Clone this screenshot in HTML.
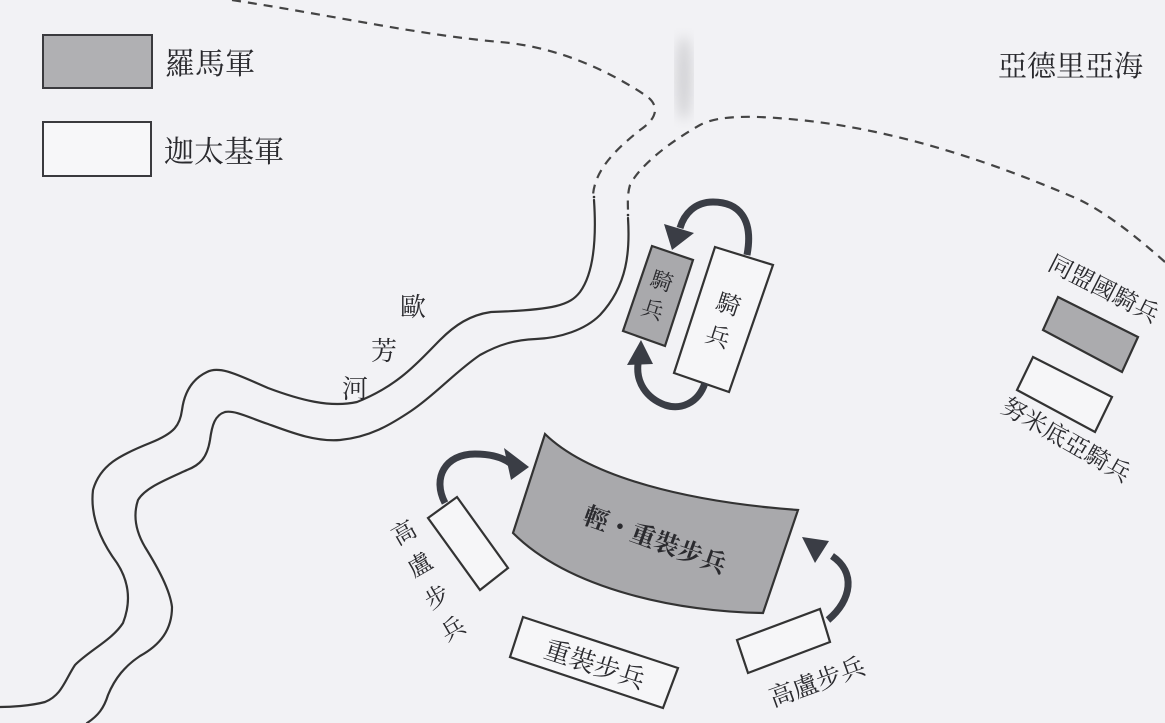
<!DOCTYPE html>
<html><head><meta charset="utf-8"><style>
html,body{margin:0;padding:0;background:#f2f2f5;}
svg{display:block}
text{font-family:"Liberation Serif","Noto Serif CJK SC","Noto Sans CJK TC",serif;fill:#2a2a2e}
</style></head><body>
<svg width="1165" height="723" viewBox="0 0 1165 723" xmlns="http://www.w3.org/2000/svg">
<defs>
<filter id="blur"><feGaussianBlur stdDeviation="6"/></filter>
</defs>
<rect width="1165" height="723" fill="#f2f2f5"/>
<ellipse cx="684" cy="78" rx="8" ry="42" fill="#d2d2d5" filter="url(#blur)"/>

<!-- legend -->
<rect x="43" y="35" width="109" height="53" fill="#b0b0b3" stroke="#3a3a3e" stroke-width="2"/>
<rect x="43" y="122" width="108" height="54" fill="#f7f7f9" stroke="#3a3a3e" stroke-width="2"/>
<text x="165" y="74" font-size="30">羅馬軍</text>
<text x="164" y="162" font-size="30">迦太基軍</text>
<text x="998" y="76" font-size="29">亞德里亞海</text>

<!-- dotted lines -->
<g fill="none" stroke="#444" stroke-width="2.2" stroke-dasharray="9 7">
<path d="M232,0 C330,15 420,35 500,42 C560,47 610,72 645,95 C660,105 658,118 640,130 C615,150 595,170 593,195"/>
<path d="M1165,262 C1140,240 1110,215 1080,200 C1000,165 900,130 800,120 C760,116 720,114 700,125 C670,142 640,165 630,185 C627,195 628,205 628,212"/>
</g>

<!-- river -->
<g fill="none" stroke="#333" stroke-width="2.2" stroke-linejoin="round" stroke-linecap="round">
<path d="M594,200 C596,230 596,270 580,292 C570,305 555,310 491,312 C470,315 455,325 440,340 C420,360 400,385 357,402 C330,408 300,400 268,388 C240,376 220,365 207,372 C190,380 184,395 182,410 C180,425 175,433 150,443 C120,455 100,465 93,490 C90,515 100,540 117,563 C128,580 132,600 123,623 C112,640 90,650 75,665 C65,680 62,695 45,702 C30,706 10,707 0,707"/>
<path d="M628,218 C630,250 628,285 600,315 C585,330 560,338 536,339 C515,340 500,344 480,355 C455,372 435,395 411,411 C390,425 370,437 340,440 C315,442 290,432 268,424 C250,418 235,410 225,412 C215,415 212,425 210,440 C207,458 200,465 187,470 C165,480 145,488 138,500 C133,515 135,530 145,547 C158,568 170,590 172,607 C172,630 160,645 140,656 C125,666 115,678 108,695 C104,708 98,716 87,723"/>
</g>
<g fill="#333"><circle cx="594" cy="197" r="1.3"/><circle cx="628" cy="215" r="1.3"/></g>

<text x="400" y="316" font-size="26">歐</text>
<text x="371" y="360" font-size="26">芳</text>
<text x="342" y="398" font-size="26">河</text>

<!-- cavalry -->
<polygon points="652,246 693,260 665,346 623,331" fill="#a9a9ac" stroke="#333" stroke-width="2.2"/>
<polygon points="715,247 773,265 729,392 674,373" fill="#f6f6f8" stroke="#333" stroke-width="2.2"/>
<g transform="translate(657,296) rotate(18)" font-size="22"><text x="0" y="-8" text-anchor="middle">騎</text><text x="0" y="22" text-anchor="middle">兵</text></g>
<g transform="translate(724,318) rotate(18)" font-size="24"><text x="0" y="-6" text-anchor="middle">騎</text><text x="0" y="28" text-anchor="middle">兵</text></g>

<!-- arrows -->
<g fill="none" stroke="#3a3d45" stroke-width="7" stroke-linecap="butt">
<path d="M747,255 C754,218 738,202 713,202 C695,202 684,214 680,228"/>
<path d="M705,383 C698,404 680,410 665,405 C646,398 636,382 638,364"/>
<path d="M445,503 C432,478 445,454 475,454 C492,454 503,458 510,463"/>
<path d="M828,620 C852,600 856,572 832,556"/>
</g>
<g fill="#3a3d45">
<polygon points="664,224 694,233 672,250"/>
<polygon points="627,365 653,364 641,340"/>
<polygon points="504,448 511,480 529,467"/>
<polygon points="829,541 815,563 802,537"/>
</g>

<!-- infantry -->
<path d="M545,434 C590,478 690,502 798,510 L763,613 C680,612 570,590 513,533 Z" fill="#a9a9ac" stroke="#333" stroke-width="2.2"/>
<text transform="translate(652,548) rotate(20)" font-size="25" text-anchor="middle" font-weight="bold">輕・重裝步兵</text>

<polygon points="428,518 457,497 508,568 480,590" fill="#f6f6f8" stroke="#333" stroke-width="2.2"/>
<g font-size="24">
<text transform="translate(408,540) rotate(-30)" text-anchor="middle">高</text>
<text transform="translate(424,572) rotate(-30)" text-anchor="middle">盧</text>
<text transform="translate(441,604) rotate(-30)" text-anchor="middle">步</text>
<text transform="translate(457,636) rotate(-30)" text-anchor="middle">兵</text>
</g>

<polygon points="523,617 678,668 663,708 510,657" fill="#f6f6f8" stroke="#333" stroke-width="2.2"/>
<text transform="translate(592,673) rotate(18)" font-size="26" text-anchor="middle">重裝步兵</text>

<polygon points="737,640 820,609 830,642 748,673" fill="#f6f6f8" stroke="#333" stroke-width="2.2"/>
<text transform="translate(820,690) rotate(-20)" font-size="25" text-anchor="middle">高盧步兵</text>

<!-- allies -->
<polygon points="1058,297 1138,337 1122,372 1043,330" fill="#ababae" stroke="#333" stroke-width="2.2"/>
<polygon points="1033,357 1112,397 1095,432 1017,390" fill="#f6f6f8" stroke="#333" stroke-width="2.2"/>
<text transform="translate(1100,296) rotate(27)" font-size="24" text-anchor="middle">同盟國騎兵</text>
<text transform="translate(1062,447) rotate(30)" font-size="24" text-anchor="middle">努米底亞騎兵</text>
</svg>
</body></html>
